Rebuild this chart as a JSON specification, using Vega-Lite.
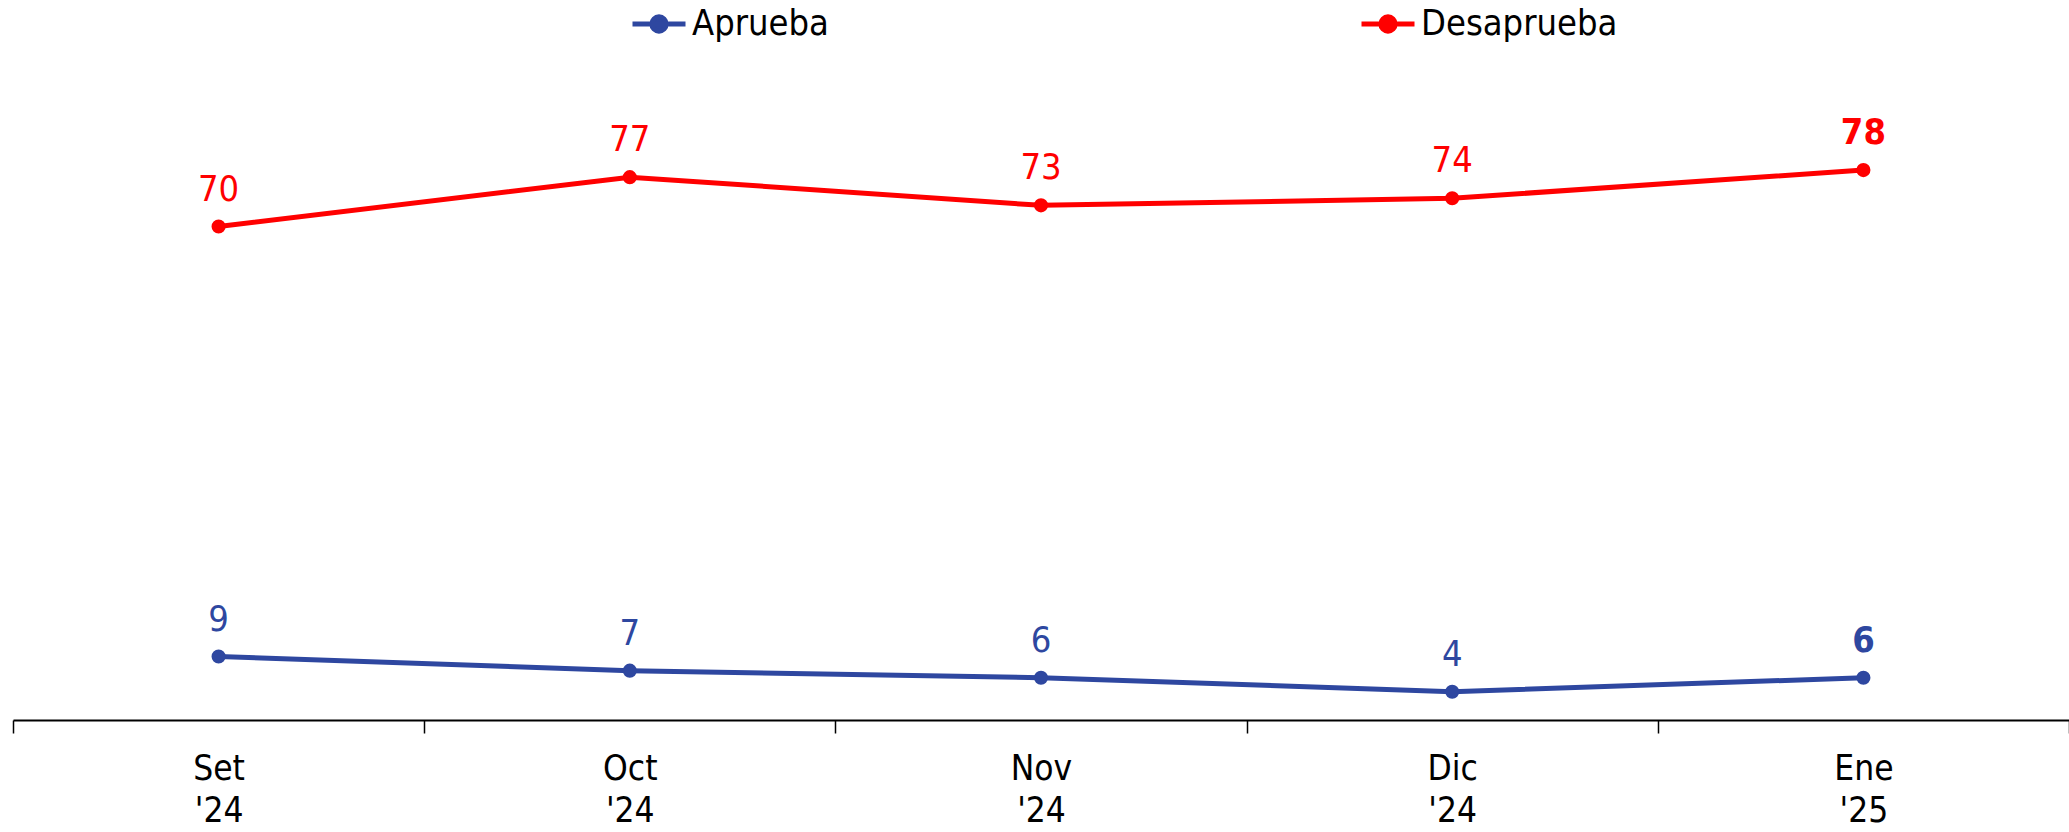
{
  "$schema": "https://vega.github.io/schema/vega-lite/v6.json",
  "width": 2056,
  "height": 705,
  "autosize": {"type": "none"},
  "padding": {"left": 13, "top": 15, "right": 0, "bottom": 112},
  "background": "white",
  "config": {
    "view": {"stroke": null},
    "font": "Liberation Sans Narrow, DejaVu Sans Condensed, sans-serif"
  },
  "data": {
    "values": [
      {"mes": "Set|'24", "serie": "Aprueba", "valor": 9},
      {"mes": "Oct|'24", "serie": "Aprueba", "valor": 7},
      {"mes": "Nov|'24", "serie": "Aprueba", "valor": 6},
      {"mes": "Dic|'24", "serie": "Aprueba", "valor": 4},
      {"mes": "Ene|'25", "serie": "Aprueba", "valor": 6},
      {"mes": "Set|'24", "serie": "Desaprueba", "valor": 70},
      {"mes": "Oct|'24", "serie": "Desaprueba", "valor": 77},
      {"mes": "Nov|'24", "serie": "Desaprueba", "valor": 73},
      {"mes": "Dic|'24", "serie": "Desaprueba", "valor": 74},
      {"mes": "Ene|'25", "serie": "Desaprueba", "valor": 78}
    ]
  },
  "encoding": {
    "x": {
      "field": "mes",
      "type": "nominal",
      "sort": null,
      "scale": {"type": "band", "paddingInner": 0, "paddingOuter": 0},
      "axis": {
        "title": null,
        "labelAngle": 0,
        "labelExpr": "split(datum.label, '|')",
        "labelFontSize": 35,
        "labelColor": "#000000",
        "labelLineHeight": 42,
        "labelPadding": 18,
        "labelBaseline": "top",
        "tickBand": "extent",
        "tickSize": 13,
        "tickColor": "#000000",
        "tickWidth": 1.5,
        "domainColor": "#000000",
        "domainWidth": 2,
        "grid": false
      }
    },
    "y": {
      "field": "valor",
      "type": "quantitative",
      "scale": {"domain": [0, 100], "nice": false},
      "axis": null
    },
    "color": {
      "field": "serie",
      "type": "nominal",
      "scale": {"domain": ["Aprueba", "Desaprueba"], "range": ["#2E47A0", "#FF0000"]},
      "legend": {
        "title": null,
        "orient": "none",
        "legendX": 617,
        "legendY": -20,
        "direction": "horizontal",
        "columns": 2,
        "columnPadding": 522,
        "labelFontSize": 36,
        "labelLimit": 0,
        "labelColor": "#000000",
        "labelOffset": 4,
        "symbolType": "M-1,0L1,0M0.27,0A0.27,0.27,0,1,1,-0.27,0A0.27,0.27,0,1,1,0.27,0Z",
        "symbolSize": 2809,
        "symbolStrokeWidth": 5
      }
    }
  },
  "layer": [
    {
      "mark": {"type": "line", "strokeWidth": 5},
      "encoding": {}
    },
    {
      "mark": {"type": "point", "filled": true, "size": 200, "opacity": 1},
      "encoding": {}
    },
    {
      "transform": [{"filter": "datum.mes != \"Ene|'25\""}],
      "mark": {"type": "text", "fontSize": 36, "baseline": "alphabetic", "dy": -26},
      "encoding": {"text": {"field": "valor", "type": "quantitative"}}
    },
    {
      "transform": [{"filter": "datum.mes == \"Ene|'25\""}],
      "mark": {"type": "text", "fontSize": 36, "fontWeight": "bold", "baseline": "alphabetic", "dy": -26},
      "encoding": {"text": {"field": "valor", "type": "quantitative"}}
    }
  ]
}
